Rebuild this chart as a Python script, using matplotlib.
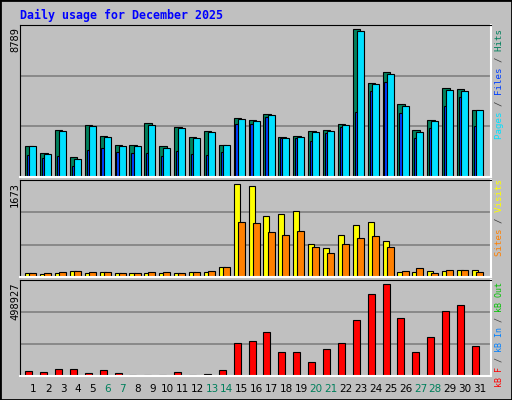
import matplotlib
matplotlib.use("Agg")
import matplotlib.pyplot as plt
from matplotlib.patches import Rectangle

days = list(range(1, 32))
weekend = [6, 7, 13, 14, 20, 21, 27, 28]

hits = [1860, 1445, 2810, 1207, 3107, 2455, 1920, 1920, 3226, 1860, 2990, 2395, 2752, 1920, 3524, 3405,
        3762, 2395, 2455, 2752, 2810, 3168, 8789, 5604, 6258, 4357, 2810, 3405, 5307, 5248, 4000]
files = [1860, 1386, 2752, 1089, 3050, 2395, 1860, 1860, 3107, 1743, 2930, 2337, 2693, 1920, 3466, 3347,
         3703, 2337, 2395, 2693, 2752, 3107, 8690, 5545, 6140, 4238, 2693, 3347, 5189, 5129, 4000]
pages = [1327, 1148, 1267, 673, 1624, 1743, 1505, 1445, 1445, 1267, 1564, 1386, 1327, 1505, 3168, 3168,
         3584, 2337, 2337, 2160, 2633, 2990, 3881, 5129, 5664, 3822, 2337, 2930, 4238, 4772, 3050]
visits = [79, 60, 79, 115, 79, 97, 79, 79, 79, 79, 79, 97, 97, 187, 1673, 1637,
          1093, 1129, 1184, 586, 513, 749, 930, 984, 640, 97, 97, 115, 115, 133, 133]
sites = [79, 79, 97, 115, 97, 97, 79, 79, 97, 97, 79, 97, 115, 187, 984, 966,
         803, 749, 821, 531, 423, 586, 695, 731, 531, 115, 169, 79, 133, 133, 97]
kbytes = [29100, 23700, 40000, 40000, 18200, 34600, 18200, 8000, 8000, 8000, 23700, 8000, 12700, 34600,
          176600, 187600, 236700, 127500, 127500, 78300, 143900, 176600, 302300, 444300, 498927,
          313200, 127500, 209400, 351500, 384200, 160300]

W, H = 512, 400
BG = "#C0C0C0"
MONO = "DejaVu Sans Mono"
fig = plt.figure(figsize=(W / 100, H / 100), dpi=100, facecolor=BG)
fig.patches.append(Rectangle((0, 0), 1, 1, transform=fig.transFigure, fill=False,
                             edgecolor="black", linewidth=2))


def panel(top, bottom, vmax):
    ax = fig.add_axes([20 / W, 1 - bottom / H, 471 / W, (bottom - top) / H])
    ax.set_facecolor(BG)
    ax.set_xlim(0.107, 31.74)
    ax.set_ylim(0, vmax * (bottom - top) / ((bottom - top) - 4))
    for s in ["left", "top"]:
        ax.spines[s].set_color("black")
    for s in ["right", "bottom"]:
        ax.spines[s].set_color("white")
        ax.spines[s].set_linewidth(1.5)
    lim = ax.get_ylim()[1]
    for f in (1 / 3, 2 / 3):
        ax.axhline(lim * f, color="#808080", linewidth=1.2, zorder=0)
    ax.set_xticks([])
    ax.set_yticks([])
    return ax


def right_label(x, ytop, parts, size=6.6):
    full = "".join(p for p, c in parts)
    pos = 0
    for p, c in parts:
        s = " " * pos + p + " " * (len(full) - pos - len(p))
        fig.text(x / W, 1 - ytop / H, s, rotation=90, ha="center", va="top",
                 family=MONO, fontsize=size, color=c)
        pos += len(p)


kw = dict(edgecolor="black", linewidth=0.8, align="edge")

ax1 = panel(25, 177, 8789)
ax1.bar([d - 0.54 for d in days], hits, width=0.5, color="#00805C", **kw)
ax1.bar([d - 0.42 for d in days], pages, width=0.5, color="#0040FF", **kw)
ax1.bar([d - 0.27 for d in days], files, width=0.47, color="#00E0FF", **kw)

ax2 = panel(180, 277, 1673)
ax2.bar([d - 0.54 for d in days], visits, width=0.4, color="#FFFF00", **kw)
ax2.bar([d - 0.27 for d in days], sites, width=0.47, color="#FF8000", **kw)

ax3 = panel(280, 376, 498927)
ax3.bar([d - 0.54 for d in days], kbytes, width=0.47, color="#FF0000", **kw)

# day labels
for d in days:
    x = (20 + (d - 0.107) / (31.74 - 0.107) * 471) / W
    fig.text(x, 1 - 389 / H, str(d), ha="center", va="center", fontsize=7.5,
             family="DejaVu Sans", color="#00805C" if d in weekend else "black")

fig.text(20 / W, 1 - 15 / H, "Daily usage for December 2025", ha="left", va="center",
         family=MONO, fontweight="bold", fontsize=8.4, color="#0000FF")

for txt, y in [("8789", 27), ("1673", 182), ("498927", 282)]:
    fig.text(15 / W, 1 - y / H, txt, rotation=90, ha="center", va="top",
             family=MONO, fontsize=7.5, color="black")

sep = "#404040"
right_label(499, 29, [("Pages", "#00E0FF"), (" / ", sep), ("Files", "#0040FF"),
                      (" / ", sep), ("Hits", "#00805C")])
right_label(499, 179, [("Sites", "#FF8000"), (" / ", sep), ("Visits", "#FFFF00")])
right_label(499, 282, [("kB F", "#FF0000"), (" / ", sep), ("kB In", "#0080FF"),
                       (" / ", sep), ("kB Out", "#00C000")], size=6.0)

fig.savefig("out.png", dpi=100, facecolor=BG)
